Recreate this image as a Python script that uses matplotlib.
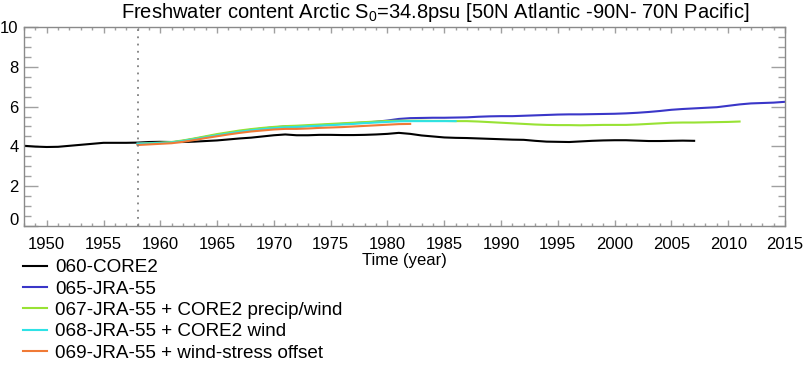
import matplotlib
matplotlib.use('Agg')
import matplotlib.pyplot as plt
import matplotlib.transforms as mtransforms
from matplotlib.ticker import MultipleLocator, FixedLocator

plt.rcParams['font.family'] = ['Liberation Sans', 'DejaVu Sans']
plt.rcParams['mathtext.fontset'] = 'custom'
plt.rcParams['mathtext.rm'] = 'Liberation Sans'
plt.rcParams['mathtext.it'] = 'Liberation Sans:italic'

# ---------------- data ----------------
years_core2 = list(range(1948, 2008))
fw_060_core2 = [4.03, 3.99, 3.97, 3.98, 4.03, 4.08, 4.13, 4.18, 4.18, 4.18,
                4.19, 4.22, 4.23, 4.22, 4.22, 4.24, 4.27, 4.30, 4.35, 4.40,
                4.44, 4.50, 4.56, 4.60, 4.56, 4.56, 4.58, 4.58, 4.57, 4.57,
                4.58, 4.60, 4.63, 4.68, 4.63, 4.55, 4.50, 4.45, 4.43, 4.42,
                4.40, 4.38, 4.36, 4.34, 4.33, 4.28, 4.24, 4.23, 4.22, 4.25,
                4.28, 4.30, 4.31, 4.31, 4.29, 4.27, 4.27, 4.28, 4.29, 4.28]

years_065 = list(range(1958, 2016))
fw_065_jra55 = [4.15, 4.17, 4.18, 4.20, 4.28, 4.38, 4.48, 4.58, 4.67, 4.76,
                4.84, 4.90, 4.96, 5.00, 5.00, 5.03, 5.06, 5.10, 5.13, 5.17,
                5.20, 5.24, 5.30, 5.38, 5.42, 5.43, 5.44, 5.44, 5.45, 5.46,
                5.49, 5.51, 5.52, 5.52, 5.54, 5.56, 5.58, 5.60, 5.61, 5.61,
                5.62, 5.63, 5.64, 5.66, 5.69, 5.73, 5.78, 5.84, 5.88, 5.91,
                5.94, 5.97, 6.04, 6.11, 6.16, 6.18, 6.20, 6.24]

years_067 = list(range(1958, 2012))
fw_067_precip_wind = [4.14, 4.16, 4.19, 4.22, 4.30, 4.40, 4.51, 4.62, 4.71, 4.80,
                      4.87, 4.93, 4.98, 5.02, 5.04, 5.07, 5.10, 5.13, 5.16, 5.19,
                      5.22, 5.25, 5.28, 5.29, 5.29, 5.29, 5.28, 5.28, 5.27, 5.27,
                      5.25, 5.22, 5.19, 5.16, 5.13, 5.10, 5.08, 5.07, 5.07, 5.06,
                      5.07, 5.08, 5.08, 5.08, 5.10, 5.13, 5.16, 5.19, 5.20, 5.20,
                      5.21, 5.22, 5.23, 5.25]

years_068 = list(range(1958, 1987))
fw_068_wind = [4.13, 4.15, 4.17, 4.20, 4.27, 4.36, 4.46, 4.56, 4.65, 4.74,
               4.81, 4.87, 4.92, 4.96, 4.98, 5.01, 5.04, 5.07, 5.10, 5.13,
               5.17, 5.20, 5.23, 5.26, 5.27, 5.27, 5.27, 5.27, 5.27]

years_069 = list(range(1958, 1983))
fw_069_stress = [4.07, 4.10, 4.13, 4.16, 4.23, 4.32, 4.42, 4.51, 4.60, 4.68,
                 4.75, 4.80, 4.85, 4.88, 4.88, 4.90, 4.93, 4.95, 4.97, 5.00,
                 5.03, 5.06, 5.09, 5.12, 5.13]

labels = ['060-CORE2', '065-JRA-55', '067-JRA-55 + CORE2 precip/wind',
          '068-JRA-55 + CORE2 wind', '069-JRA-55 + wind-stress offset']
colors = ['#000000', '#3a36c8', '#98e234', '#2ee2e6', '#f07a36']
x_ticks = [1950, 1955, 1960, 1965, 1970, 1975, 1980, 1985, 1990, 1995,
           2000, 2005, 2010, 2015]
y_ticks = [0, 2, 4, 6, 8, 10]
spinup_year = 1958

# ---------------- figure ----------------
fig = plt.figure(figsize=(8.05, 3.66), dpi=100)
ax = fig.add_axes([24/805, 140/366, (785-24)/805, (226-27)/366])

series = [(years_core2, fw_060_core2), (years_065, fw_065_jra55),
          (years_067, fw_067_precip_wind), (years_068, fw_068_wind),
          (years_069, fw_069_stress)]
handles = []
for (xs, ys), c, lab in zip(series, colors, labels):
    h, = ax.plot(xs, ys, color=c, lw=1.5, label=lab)
    handles.append(h)

ax.axvline(spinup_year, color='#808080', lw=1.3, ls=(0, (1, 3)))

ax.set_xlim(1948, 2015)
ax.set_ylim(0, 10)
ax.xaxis.set_major_locator(FixedLocator(x_ticks))
ax.xaxis.set_minor_locator(MultipleLocator(1))
ax.yaxis.set_major_locator(FixedLocator(y_ticks))
ax.yaxis.set_minor_locator(MultipleLocator(0.5))

tc = '#a0a0a0'
ax.tick_params(axis='x', which='major', direction='in', top=True, bottom=True,
               length=4, width=1, color=tc, labelsize=12, pad=8)
ax.tick_params(axis='x', which='minor', direction='in', top=True, bottom=True,
               length=2.5, width=1, color=tc)
ax.tick_params(axis='y', which='major', direction='in', left=True, right=True,
               length=10, width=1, color=tc, labelsize=12, pad=4)
ax.tick_params(axis='y', which='minor', direction='in', left=True, right=True,
               length=5, width=1, color=tc)
for s in ax.spines.values():
    s.set_color('#8a8a8a')
    s.set_linewidth(1)

ax.set_xlabel('Time (year)', fontsize=12, labelpad=1)

fig.text(435/805, 1 - 13/366,
         r'Freshwater content Arctic S$_0$=34.8psu [50N Atlantic -90N- 70N Pacific]',
         ha='center', va='center', fontsize=14.5)

# shift the '0' y-label up slightly, as in the reference
fig.canvas.draw()
for lab in ax.get_yticklabels():
    if lab.get_text() == '0':
        lab.set_transform(lab.get_transform() +
                          mtransforms.ScaledTranslation(0, 5/72, fig.dpi_scale_trans))

leg = fig.legend(handles=handles, labels=labels, loc='upper left',
                 bbox_to_anchor=(23/805, 1 - 259/366), frameon=False,
                 fontsize=13.6, handlelength=1.28, handletextpad=0.43,
                 labelspacing=0.22, borderpad=0, borderaxespad=0)

fig.savefig('out.png', dpi=100)
